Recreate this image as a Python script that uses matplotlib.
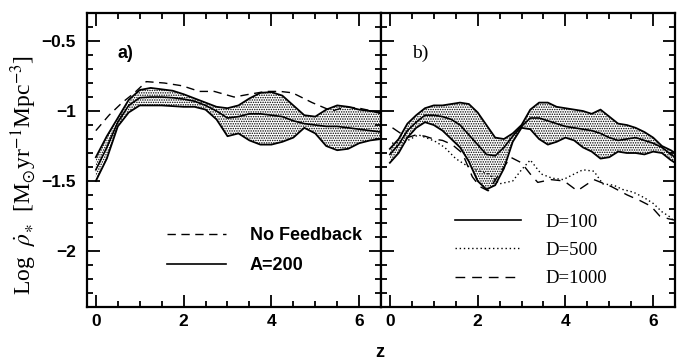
import matplotlib
matplotlib.use("Agg")
import matplotlib.pyplot as plt
from matplotlib.ticker import MultipleLocator

# ---- panel a) : A=200 band + no feedback run ----
za = [0, 0.25, 0.5, 0.75, 1.0, 1.25, 1.5, 1.75, 2.0, 2.25, 2.5, 2.75, 3.0, 3.25,
      3.5, 3.75, 4.0, 4.25, 4.5, 4.75, 5.0, 5.25, 5.5, 5.75, 6.0, 6.25, 6.5]
a_upper = [-1.33, -1.18, -1.05, -0.92, -0.85, -0.835, -0.845, -0.855, -0.88, -0.91,
           -0.94, -0.97, -0.98, -0.96, -0.91, -0.87, -0.865, -0.89, -0.96, -1.03,
           -1.04, -0.99, -0.96, -0.97, -0.99, -1.0, -1.01]
a_mid = [-1.42, -1.26, -1.08, -0.96, -0.905, -0.9, -0.9, -0.905, -0.915, -0.93,
         -0.96, -1.0, -1.05, -1.04, -1.02, -1.02, -1.03, -1.04, -1.07, -1.09,
         -1.1, -1.11, -1.11, -1.12, -1.13, -1.14, -1.15]
a_lower = [-1.5, -1.34, -1.11, -1.01, -0.96, -0.96, -0.96, -0.965, -0.97, -0.97,
           -0.99, -1.06, -1.18, -1.16, -1.21, -1.24, -1.24, -1.22, -1.19, -1.12,
           -1.16, -1.25, -1.28, -1.27, -1.23, -1.21, -1.2]

z_nofb = [0, 0.3, 0.6, 0.88, 1.15, 1.56, 1.97, 2.36, 2.7, 3.15, 3.5, 3.88, 4.2,
          4.48, 4.93, 5.38, 5.7, 6.0, 6.3, 6.5]
nofb = [-1.14, -1.03, -0.94, -0.87, -0.79, -0.8, -0.82, -0.86, -0.86, -0.9, -0.88,
        -0.86, -0.86, -0.87, -0.94, -1.0, -0.97, -0.98, -1.0, -1.02]

# ---- panel b) : D=100 band, D=500, D=1000 ----
zb = [0, 0.2, 0.4, 0.6, 0.8, 1.0, 1.2, 1.4, 1.6, 1.8, 2.0, 2.2, 2.4, 2.6, 2.8, 3.0,
      3.2, 3.4, 3.6, 3.8, 4.0, 4.2, 4.4, 4.6, 4.8, 5.0, 5.2, 5.4, 5.6, 5.8, 6.0,
      6.2, 6.4, 6.5]
b_upper = [-1.27, -1.2, -1.09, -1.03, -0.98, -0.96, -0.96, -0.95, -0.94, -0.95,
           -1.01, -1.1, -1.19, -1.2, -1.16, -1.1, -0.99, -0.94, -0.94, -0.97,
           -0.98, -0.99, -1.0, -1.02, -0.99, -1.04, -1.09, -1.1, -1.12, -1.15,
           -1.19, -1.25, -1.28, -1.3]
b_mid = [-1.31, -1.24, -1.14, -1.08, -1.03, -1.03, -1.04, -1.06, -1.1, -1.17,
         -1.24, -1.31, -1.32, -1.26, -1.18, -1.11, -1.05, -1.05, -1.07, -1.09,
         -1.11, -1.12, -1.13, -1.14, -1.16, -1.19, -1.21, -1.2, -1.19, -1.21,
         -1.23, -1.26, -1.31, -1.33]
b_lower = [-1.37, -1.3, -1.19, -1.12, -1.08, -1.1, -1.14, -1.2, -1.26, -1.36,
           -1.5, -1.56, -1.53, -1.41, -1.22, -1.12, -1.13, -1.2, -1.24, -1.22,
           -1.19, -1.21, -1.26, -1.29, -1.34, -1.33, -1.29, -1.3, -1.3, -1.31,
           -1.29, -1.3, -1.35, -1.37]

z_d500 = [0.05, 0.35, 0.65, 0.9, 1.05, 1.25, 1.5, 1.75, 1.95, 2.25, 2.5, 2.8, 3.0,
          3.2, 3.45, 3.7, 3.95, 4.2, 4.4, 4.65, 4.85, 5.1, 5.3, 5.55, 5.8, 6.0,
          6.2, 6.4, 6.5]
d500 = [-1.23, -1.22, -1.17, -1.2, -1.22, -1.26, -1.34, -1.39, -1.42, -1.45, -1.52,
        -1.5, -1.42, -1.35, -1.45, -1.48, -1.49, -1.45, -1.42, -1.43, -1.52, -1.53,
        -1.56, -1.58, -1.62, -1.66, -1.72, -1.76, -1.8]

z_d1000 = [0.06, 0.2, 0.4, 0.6, 0.8, 1.0, 1.2, 1.42, 1.65, 1.88, 2.05, 2.24, 2.45,
           2.75, 3.0, 3.2, 3.37, 3.67, 3.97, 4.27, 4.65, 5.05, 5.41, 5.7, 5.95,
           6.15, 6.35, 6.5]
d1000 = [-1.12, -1.15, -1.19, -1.17, -1.18, -1.2, -1.21, -1.24, -1.3, -1.47, -1.54,
         -1.57, -1.47, -1.33, -1.37, -1.45, -1.51, -1.49, -1.5, -1.57, -1.49, -1.54,
         -1.6, -1.64, -1.68, -1.75, -1.77, -1.78]

plt.rcParams['mathtext.fontset'] = 'stix'
plt.rcParams['hatch.linewidth'] = 0.7
plt.rcParams['hatch.color'] = 'black'

tickfont = {'family': 'Liberation Sans', 'weight': 'bold', 'size': 12.5}

fig, (ax1, ax2) = plt.subplots(1, 2, sharey=True, figsize=(6.91, 3.62), dpi=100)
fig.subplots_adjust(left=0.126, right=0.977, bottom=0.152, top=0.964, wspace=0)


def draw_band(ax, z, lo, mid, hi, label):
    ax.fill_between(z, lo, hi, facecolor='none', edgecolor='black',
                    hatch='.......', linewidth=0)
    ax.plot(z, hi, color='black', lw=1.3)
    ax.plot(z, lo, color='black', lw=1.3)
    line, = ax.plot(z, mid, color='black', lw=1.2, label=label)
    return line


band_a = draw_band(ax1, za, a_lower, a_mid, a_upper, 'A=200')
nofb_line, = ax1.plot(z_nofb, nofb, color='black', lw=1.0, dashes=(6, 4),
                      label='No Feedback')

band_b = draw_band(ax2, zb, b_lower, b_mid, b_upper, 'D=100')
d500_line, = ax2.plot(z_d500, d500, color='black', lw=1.0, ls=(0, (1, 2)),
                      label='D=500')
d1000_line, = ax2.plot(z_d1000, d1000, color='black', lw=1.0, dashes=(7, 5),
                       label='D=1000')

for ax in (ax1, ax2):
    ax.set_xlim(-0.2, 6.5)
    ax.set_ylim(-2.4, -0.3)
    ax.xaxis.set_major_locator(MultipleLocator(2))
    ax.xaxis.set_minor_locator(MultipleLocator(0.5))
    ax.yaxis.set_major_locator(MultipleLocator(0.5))
    ax.yaxis.set_minor_locator(MultipleLocator(0.1))
    ax.tick_params(which='both', direction='in', top=True, right=True, width=1.3)
    ax.tick_params(which='major', length=9)
    ax.tick_params(which='minor', length=4.5)
    ax.tick_params(axis='x', pad=5)
    ax.tick_params(axis='y', pad=8)
    for s in ax.spines.values():
        s.set_linewidth(1.6)

ax1.set_yticks([-0.5, -1, -1.5, -2])
ax1.set_yticklabels(['\u22120.5', '\u22121', '\u22121.5', '\u22122'], fontdict=tickfont)
ax1.set_xticks([0, 2, 4, 6])
ax1.set_xticklabels(['0', '2', '4', '6'], fontdict=tickfont)
ax2.set_xticks([0, 2, 4, 6])
ax2.set_xticklabels(['0', '2', '4', '6'], fontdict=tickfont)

ax1.set_ylabel(r'Log  $\dot{\rho}_{\ast}$  [M$_{\odot}$yr$^{-1}$Mpc$^{-3}$]',
               family='Liberation Serif', fontsize=17)
ax1.yaxis.set_label_coords(-0.165, 0.45)
fig.text(0.55, 0.004, 'z', family='Liberation Sans', weight='bold', fontsize=13,
         ha='center', va='bottom')

ax1.text(0.105, 0.864, 'a)', transform=ax1.transAxes, family='Liberation Sans',
         weight='bold', fontsize=13, va='center')
ax2.text(0.105, 0.864, 'b)', transform=ax2.transAxes, family='Liberation Serif',
         fontsize=14, va='center')

leg1 = ax1.legend(handles=[nofb_line, band_a], loc='lower left',
                  bbox_to_anchor=(0.24, 0.08), frameon=False, handlelength=3.3,
                  handletextpad=1.3, labelspacing=0.75, borderpad=0,
                  prop={'family': 'Liberation Sans', 'weight': 'bold', 'size': 13})
leg2 = ax2.legend(handles=[band_b, d500_line, d1000_line], loc='lower left',
                  bbox_to_anchor=(0.22, 0.035), frameon=False, handlelength=3.5,
                  handletextpad=1.3, labelspacing=0.6, borderpad=0,
                  prop={'family': 'Liberation Serif', 'size': 13.5})

fig.savefig('out.png', dpi=100)
